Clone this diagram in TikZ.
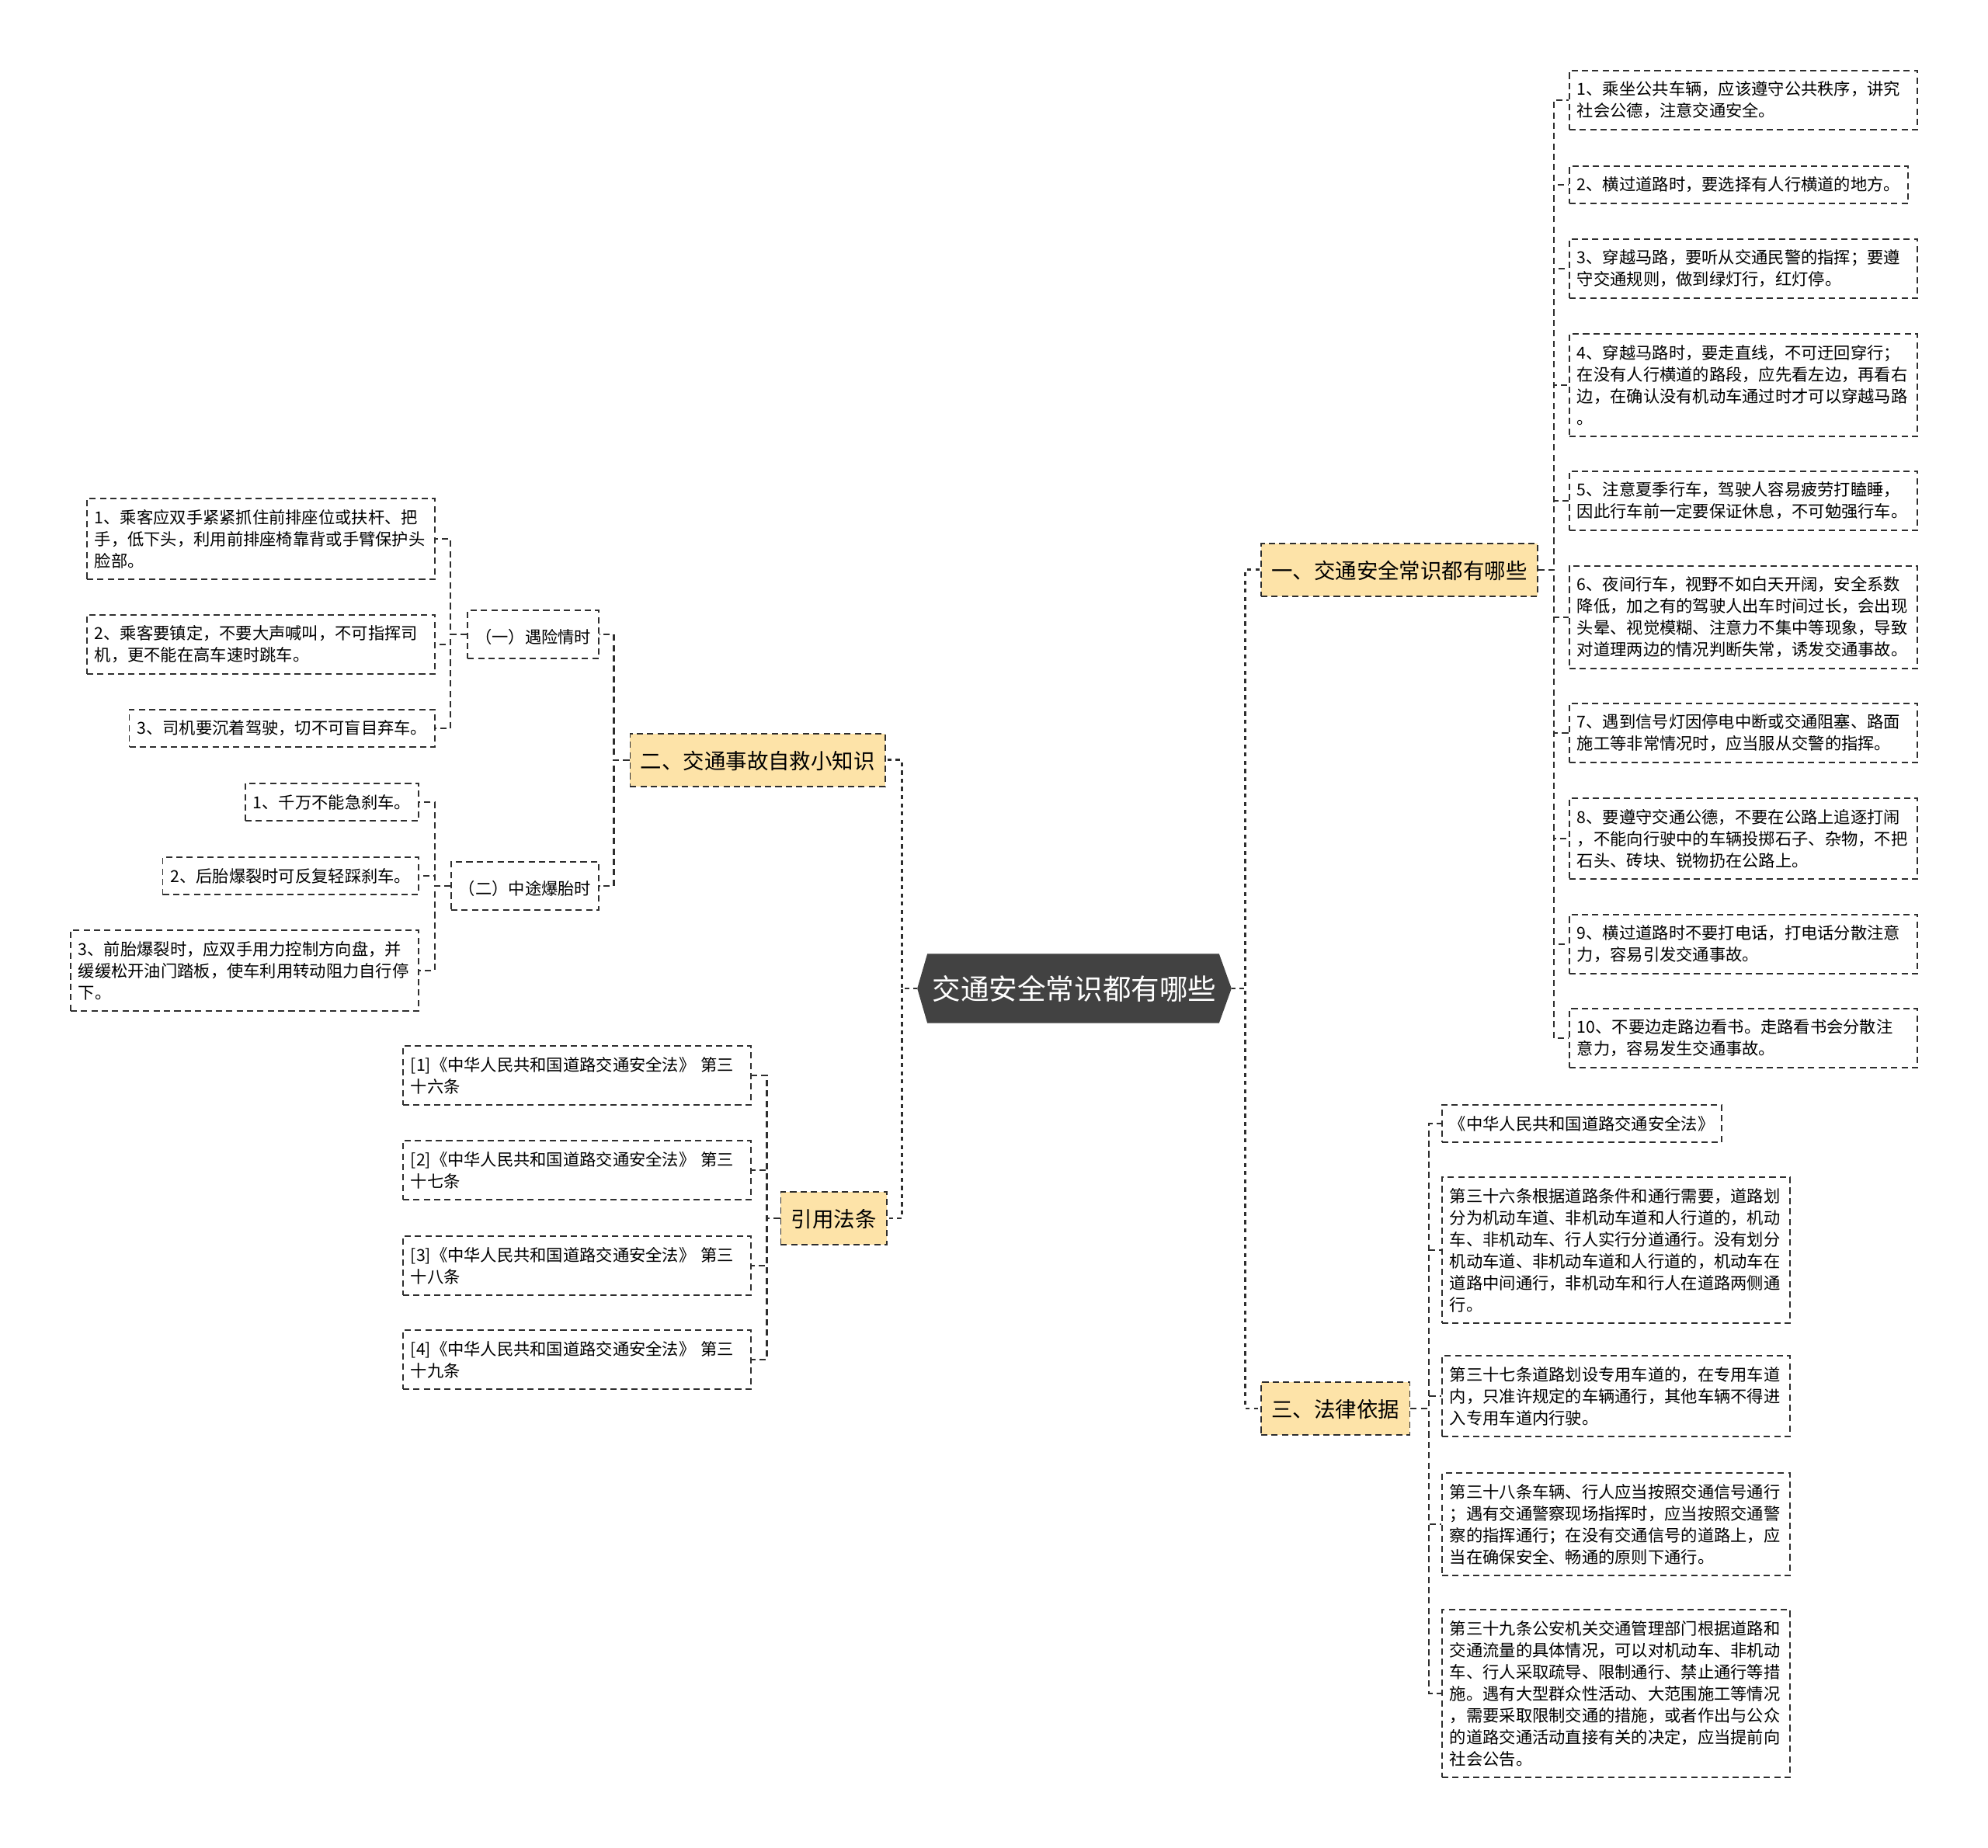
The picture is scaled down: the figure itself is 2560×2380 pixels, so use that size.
\documentclass[tikz,border=0pt]{standalone}
\usepackage{fontspec}
\setmainfont{Noto Sans CJK SC}
\usetikzlibrary{calc,backgrounds}
\definecolor{rootgray}{HTML}{424242}
\definecolor{branchfill}{HTML}{FDE3A8}
\definecolor{linegray}{HTML}{2E2E2E}
\newcommand{\leaffont}{\fontsize{6.05pt}{7.97pt}\selectfont}
\newcommand{\branchfont}{\fontsize{7.8pt}{9pt}\selectfont}
\newcommand{\rootfont}{\fontsize{10.4pt}{12pt}\selectfont}

\begin{document}
\begin{tikzpicture}[x=0.01cm,y=-0.01cm,
  box/.style={draw=linegray,line width=0.5pt,dash pattern=on 2.3pt off 1.5pt},
  leaf/.style={box,font=\leaffont,align=left,inner xsep=0.1cm,inner ysep=0.14cm},
  wide/.style={text width=4.28cm},
  sub/.style={leaf,text height=0.8em,text depth=0.15em},
  branch/.style={box,fill=branchfill,font=\branchfont,inner xsep=0.135cm,inner ysep=0.17cm,text height=0.8em,text depth=0.15em},
  link/.style={draw=linegray,line width=0.6pt,dash pattern=on 2.3pt off 1.5pt},
  trunk/.style={draw=linegray,line width=0.85pt,dash pattern=on 1.5pt off 1.5pt}]
\useasboundingbox (0,0) rectangle (2560,2380);

\node[font=\rootfont,text=white,minimum width=4.03cm,minimum height=0.88cm,inner sep=0pt] (root) at (1383.5,1273) {交通安全常识都有哪些};
\begin{pgfonlayer}{background}
\fill[rootgray] (root.west) -- ($(root.north west)+(13,0)$) -- ($(root.north east)+(-16,0)$) -- (root.east)
  -- ($(root.south east)+(-16,0)$) -- ($(root.south west)+(13,0)$) -- cycle;
\end{pgfonlayer}

\node[branch,anchor=west] (b1) at (1623,734) {一、交通安全常识都有哪些};
\node[branch,anchor=east] (b2) at (1141,979) {二、交通事故自救小知识};
\node[branch,anchor=west] (b3) at (1623,1814) {三、法律依据};
\node[branch,anchor=east] (b4) at (1143,1569) {引用法条};

\node[leaf,wide,anchor=west] (r1) at (2020,129) {1、乘坐公共车辆，应该遵守公共秩序，讲究\\社会公德，注意交通安全。};
\node[leaf,anchor=west] (r2) at (2020,238) {2、横过道路时，要选择有人行横道的地方。};
\node[leaf,wide,anchor=west] (r3) at (2020,346) {3、穿越马路，要听从交通民警的指挥；要遵\\守交通规则，做到绿灯行，红灯停。};
\node[leaf,wide,anchor=west] (r4) at (2020,496) {4、穿越马路时，要走直线，不可迂回穿行；\\在没有人行横道的路段，应先看左边，再看右\\边，在确认没有机动车通过时才可以穿越马路\\。};
\node[leaf,wide,anchor=west] (r5) at (2020,645) {5、注意夏季行车，驾驶人容易疲劳打瞌睡，\\因此行车前一定要保证休息，不可勉强行车。};
\node[leaf,wide,anchor=west] (r6) at (2020,795) {6、夜间行车，视野不如白天开阔，安全系数\\降低，加之有的驾驶人出车时间过长，会出现\\头晕、视觉模糊、注意力不集中等现象，导致\\对道理两边的情况判断失常，诱发交通事故。};
\node[leaf,wide,anchor=west] (r7) at (2020,944) {7、遇到信号灯因停电中断或交通阻塞、路面\\施工等非常情况时，应当服从交警的指挥。};
\node[leaf,wide,anchor=west] (r8) at (2020,1080) {8、要遵守交通公德，不要在公路上追逐打闹\\，不能向行驶中的车辆投掷石子、杂物，不把\\石头、砖块、锐物扔在公路上。};
\node[leaf,wide,anchor=west] (r9) at (2020,1216) {9、横过道路时不要打电话，打电话分散注意\\力，容易引发交通事故。};
\node[leaf,wide,anchor=west] (r10) at (2020,1337) {10、不要边走路边看书。走路看书会分散注\\意力，容易发生交通事故。};

\node[sub,anchor=east] (s1) at (772,817) {（一）遇险情时};
\node[sub,anchor=east] (s2) at (772,1141) {（二）中途爆胎时};
\node[leaf,wide,anchor=east] (p1) at (561,694) {1、乘客应双手紧紧抓住前排座位或扶杆、把\\手，低下头，利用前排座椅靠背或手臂保护头\\脸部。};
\node[leaf,wide,anchor=east] (p2) at (561,830) {2、乘客要镇定，不要大声喊叫，不可指挥司\\机，更不能在高车速时跳车。};
\node[leaf,anchor=east] (p3) at (561,938) {3、司机要沉着驾驶，切不可盲目弃车。};
\node[leaf,anchor=east] (t1) at (540,1033) {1、千万不能急刹车。};
\node[leaf,anchor=east] (t2) at (540,1128) {2、后胎爆裂时可反复轻踩刹车。};
\node[leaf,wide,anchor=east] (t3) at (540,1250) {3、前胎爆裂时，应双手用力控制方向盘，并\\缓缓松开油门踏板，使车利用转动阻力自行停\\下。};

\node[leaf,wide,anchor=east] (c1) at (968,1385) {[1]《中华人民共和国道路交通安全法》 第三\\十六条};
\node[leaf,wide,anchor=east] (c2) at (968,1507) {[2]《中华人民共和国道路交通安全法》 第三\\十七条};
\node[leaf,wide,anchor=east] (c3) at (968,1630) {[3]《中华人民共和国道路交通安全法》 第三\\十八条};
\node[leaf,wide,anchor=east] (c4) at (968,1751) {[4]《中华人民共和国道路交通安全法》 第三\\十九条};

\node[leaf,anchor=west] (l0) at (1856,1447) {《中华人民共和国道路交通安全法》};
\node[leaf,wide,anchor=west] (l1) at (1856,1610) {第三十六条根据道路条件和通行需要，道路划\\分为机动车道、非机动车道和人行道的，机动\\车、非机动车、行人实行分道通行。没有划分\\机动车道、非机动车道和人行道的，机动车在\\道路中间通行，非机动车和行人在道路两侧通\\行。};
\node[leaf,wide,anchor=west] (l2) at (1856,1798) {第三十七条道路划设专用车道的，在专用车道\\内，只准许规定的车辆通行，其他车辆不得进\\入专用车道内行驶。};
\node[leaf,wide,anchor=west] (l3) at (1856,1963) {第三十八条车辆、行人应当按照交通信号通行\\；遇有交通警察现场指挥时，应当按照交通警\\察的指挥通行；在没有交通信号的道路上，应\\当在确保安全、畅通的原则下通行。};
\node[leaf,wide,anchor=west] (l4) at (1856,2181) {第三十九条公安机关交通管理部门根据道路和\\交通流量的具体情况，可以对机动车、非机动\\车、行人采取疏导、限制通行、禁止通行等措\\施。遇有大型群众性活动、大范围施工等情况\\，需要采取限制交通的措施，或者作出与公众\\的道路交通活动直接有关的决定，应当提前向\\社会公告。};

\draw[trunk]
(root.east) -- ++(18,0) |- (b1.west)
(root.east) -- ++(18,0) |- (b3.west)
(root.west) -- ++(-20,0) |- (b2.east)
(root.west) -- ++(-20,0) |- (b4.east);
\draw[link]
(b1.east) -- ++(20,0) |- (r1.west)
(b1.east) -- ++(20,0) |- (r2.west)
(b1.east) -- ++(20,0) |- (r3.west)
(b1.east) -- ++(20,0) |- (r4.west)
(b1.east) -- ++(20,0) |- (r5.west)
(b1.east) -- ++(20,0) |- (r6.west)
(b1.east) -- ++(20,0) |- (r7.west)
(b1.east) -- ++(20,0) |- (r8.west)
(b1.east) -- ++(20,0) |- (r9.west)
(b1.east) -- ++(20,0) |- (r10.west);
\draw[link]
(b2.west) -- ++(-20,0) |- (s1.east)
(b2.west) -- ++(-20,0) |- (s2.east)
(s1.west) -- ++(-21,0) |- (p1.east)
(s1.west) -- ++(-21,0) |- (p2.east)
(s1.west) -- ++(-21,0) |- (p3.east)
(s2.west) -- ++(-20,0) |- (t1.east)
(s2.west) -- ++(-20,0) |- (t2.east)
(s2.west) -- ++(-20,0) |- (t3.east);
\draw[link]
(b4.west) -- ++(-17,0) |- (c1.east)
(b4.west) -- ++(-17,0) |- (c2.east)
(b4.west) -- ++(-17,0) |- (c3.east)
(b4.west) -- ++(-17,0) |- (c4.east);
\draw[link]
(b3.east) -- ++(24,0) |- (l0.west)
(b3.east) -- ++(24,0) |- (l1.west)
(b3.east) -- ++(24,0) |- (l2.west)
(b3.east) -- ++(24,0) |- (l3.west)
(b3.east) -- ++(24,0) |- (l4.west);
\end{tikzpicture}
\end{document}
